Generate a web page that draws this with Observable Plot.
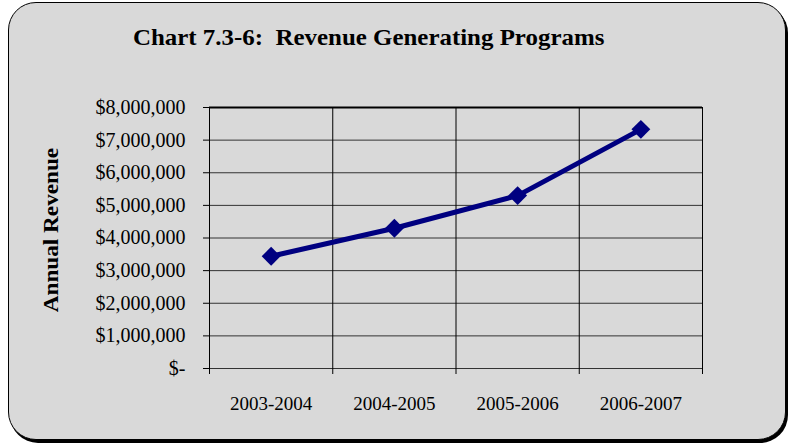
<!DOCTYPE html>
<html>
<head>
<meta charset="utf-8">
<script src="https://cdn.jsdelivr.net/npm/d3@7"></script>
<script src="https://cdn.jsdelivr.net/npm/@observablehq/plot@0.6"></script>
<style>
  html, body { margin: 0; padding: 0; background: #ffffff; }
  #wrap { position: relative; width: 788px; height: 445px; overflow: hidden; font-family: "Liberation Serif", "Times New Roman", serif; }
  #frame { position: absolute; left: 8px; top: 2px; width: 776px; height: 436px; background: #d9d9d9; border: 1.5px solid #000; border-radius: 28px; box-shadow: 2px 3px 0 #000; }
  #title { position: absolute; left: 133px; top: 26px; font-size: 23px; line-height: 23px; font-weight: bold; white-space: pre; color: #000; transform-origin: 0 50%; transform: scaleX(1.083); }
  #ylabel { position: absolute; left: 51px; top: 230px; font-size: 20px; font-weight: bold; white-space: nowrap; transform: translate(-50%, -50%) rotate(-90deg) scaleX(1.16); color: #000; }
  #chart { position: absolute; left: 0; top: 0; }
</style>
</head>
<body>
<div id="wrap">
  <div id="frame"></div>
  <div id="chart"></div>
  <div id="title">Chart 7.3-6:  Revenue Generating Programs</div>
  <div id="ylabel">Annual Revenue</div>
</div>
<script>
const seasons = ["2003-2004", "2004-2005", "2005-2006", "2006-2007"];
const revenue = [3440000, 4300000, 5300000, 7330000];
const yTickValues = [0, 1000000, 2000000, 3000000, 4000000, 5000000, 6000000, 7000000, 8000000];

const data = seasons.map((s, i) => ({season: s, index: i, revenue: revenue[i]}));
const boundaries = d3.range(0, seasons.length + 1);
const centers = seasons.map((s, i) => i + 0.5);
const fmt = d => d === 0 ? "$-" : d3.format("$,")(d);

const plot = Plot.plot({
  width: 788,
  height: 445,
  marginLeft: 209,
  marginRight: 86,
  marginTop: 107,
  marginBottom: 77,
  style: {background: "transparent", fontFamily: "'Liberation Serif', 'Times New Roman', serif", fontSize: "19px", color: "#000"},
  x: {domain: [0, seasons.length]},
  y: {domain: [0, 8000000]},
  marks: [
    Plot.ruleY(yTickValues, {stroke: "#333", strokeWidth: 1}),
    Plot.ruleX(boundaries, {stroke: "#000", strokeWidth: 1}),
    Plot.ruleY([8000000], {stroke: "#000", strokeWidth: 2}),
    Plot.axisY({ticks: yTickValues, tickSize: 6, tickPadding: 18, tickFormat: fmt, label: null, fontSize: 20, stroke: "#000", strokeOpacity: 1}),
    Plot.axisX({ticks: boundaries, tickSize: 6, tickFormat: () => "", label: null, stroke: "#000", strokeOpacity: 1}),
    Plot.axisX({ticks: centers, tickSize: 0, tickPadding: 28, tickFormat: d => seasons[Math.floor(d)], label: null, fontSize: 19}),
    Plot.line(data, {x: d => d.index + 0.5, y: "revenue", stroke: "#000080", strokeWidth: 5}),
    Plot.dot(data, {x: d => d.index + 0.5, y: "revenue", symbol: "diamond2", r: 8.5, fill: "#000080", stroke: "none"})
  ]
});
document.getElementById("chart").appendChild(plot);
</script>
</body>
</html>
